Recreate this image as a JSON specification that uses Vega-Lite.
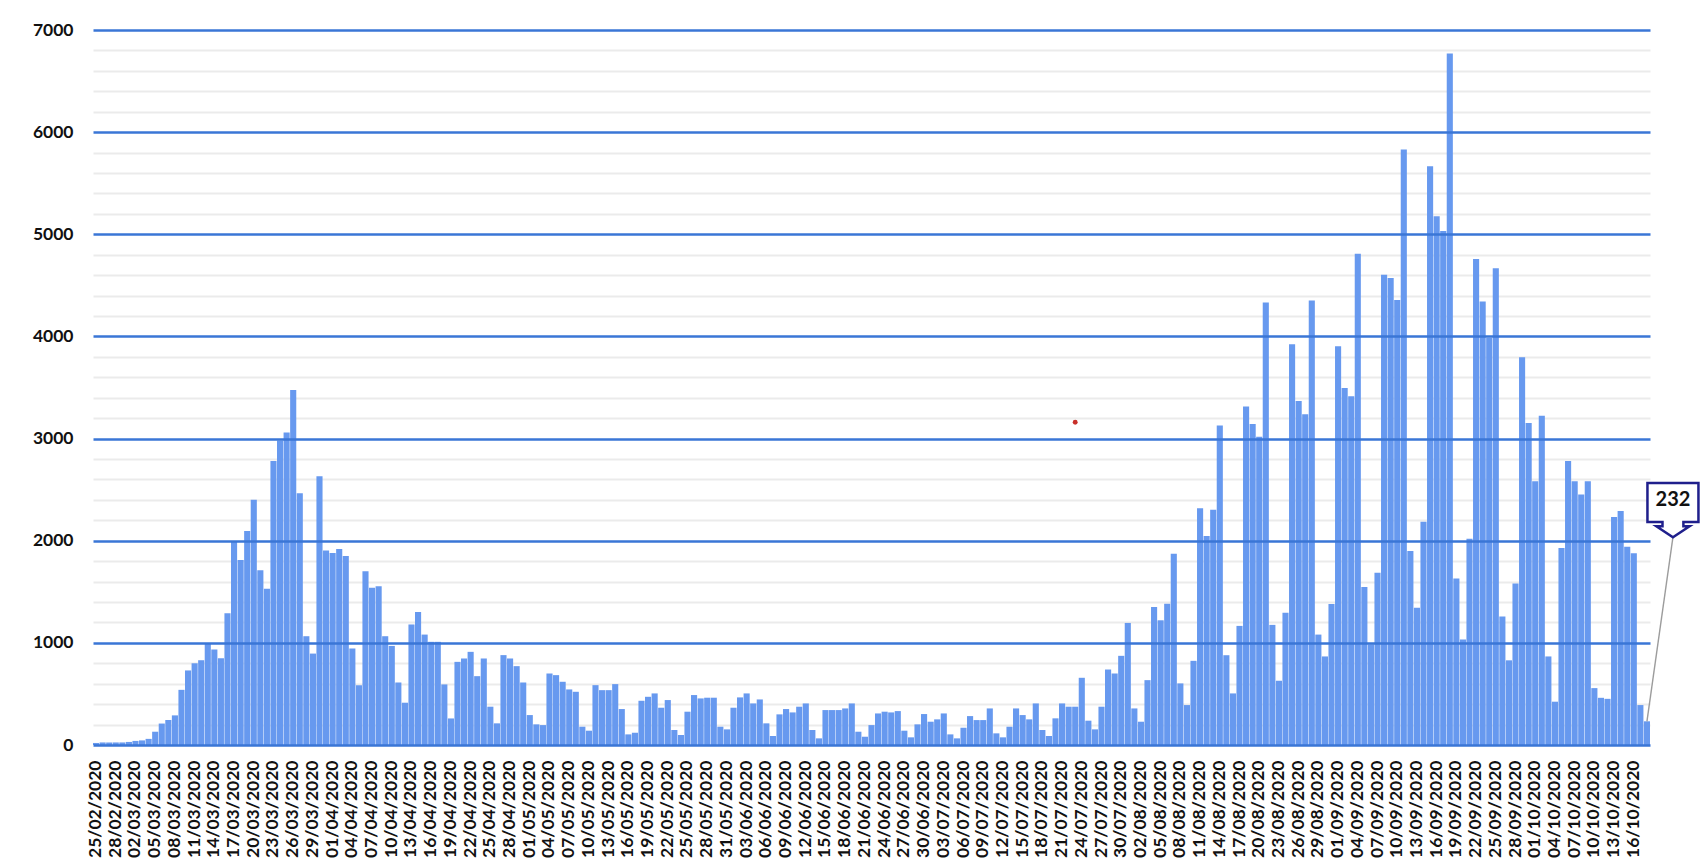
{
  "$schema": "https://vega.github.io/schema/vega-lite/v6.json",
  "width": 1557,
  "height": 715,
  "autosize": {"type": "none"},
  "padding": {"left": 93, "top": 30, "right": 56, "bottom": 117},
  "background": "white",
  "config": {"view": {"stroke": null}, "font": "Lato"},
  "datasets": {
    "daily": [
      {"date":"25/02/2020","value":20},{"date":"26/02/2020","value":25},{"date":"27/02/2020","value":25},{"date":"28/02/2020","value":25},{"date":"29/02/2020","value":25},
      {"date":"01/03/2020","value":30},{"date":"02/03/2020","value":40},{"date":"03/03/2020","value":45},{"date":"04/03/2020","value":60},{"date":"05/03/2020","value":130},{"date":"06/03/2020","value":210},{"date":"07/03/2020","value":245},{"date":"08/03/2020","value":290},{"date":"09/03/2020","value":540},{"date":"10/03/2020","value":730},{"date":"11/03/2020","value":800},{"date":"12/03/2020","value":830},{"date":"13/03/2020","value":990},{"date":"14/03/2020","value":935},{"date":"15/03/2020","value":850},{"date":"16/03/2020","value":1290},{"date":"17/03/2020","value":1995},{"date":"18/03/2020","value":1810},{"date":"19/03/2020","value":2095},{"date":"20/03/2020","value":2400},{"date":"21/03/2020","value":1710},{"date":"22/03/2020","value":1530},{"date":"23/03/2020","value":2780},{"date":"24/03/2020","value":2980},{"date":"25/03/2020","value":3060},{"date":"26/03/2020","value":3475},{"date":"27/03/2020","value":2465},{"date":"28/03/2020","value":1065},{"date":"29/03/2020","value":895},{"date":"30/03/2020","value":2630},{"date":"31/03/2020","value":1905},
      {"date":"01/04/2020","value":1880},{"date":"02/04/2020","value":1920},{"date":"03/04/2020","value":1850},{"date":"04/04/2020","value":945},{"date":"05/04/2020","value":585},{"date":"06/04/2020","value":1700},{"date":"07/04/2020","value":1540},{"date":"08/04/2020","value":1555},{"date":"09/04/2020","value":1065},{"date":"10/04/2020","value":970},{"date":"11/04/2020","value":612},{"date":"12/04/2020","value":414},{"date":"13/04/2020","value":1180},{"date":"14/04/2020","value":1303},{"date":"15/04/2020","value":1081},{"date":"16/04/2020","value":1010},{"date":"17/04/2020","value":1010},{"date":"18/04/2020","value":593},{"date":"19/04/2020","value":260},{"date":"20/04/2020","value":814},{"date":"21/04/2020","value":847},{"date":"22/04/2020","value":912},{"date":"23/04/2020","value":674},{"date":"24/04/2020","value":847},{"date":"25/04/2020","value":375},{"date":"26/04/2020","value":212},{"date":"27/04/2020","value":880},{"date":"28/04/2020","value":847},{"date":"29/04/2020","value":772},{"date":"30/04/2020","value":612},
      {"date":"01/05/2020","value":293},{"date":"02/05/2020","value":202},{"date":"03/05/2020","value":195},{"date":"04/05/2020","value":700},{"date":"05/05/2020","value":684},{"date":"06/05/2020","value":619},{"date":"07/05/2020","value":544},{"date":"08/05/2020","value":521},{"date":"09/05/2020","value":179},{"date":"10/05/2020","value":140},{"date":"11/05/2020","value":586},{"date":"12/05/2020","value":537},{"date":"13/05/2020","value":537},{"date":"14/05/2020","value":596},{"date":"15/05/2020","value":352},{"date":"16/05/2020","value":104},{"date":"17/05/2020","value":120},{"date":"18/05/2020","value":433},{"date":"19/05/2020","value":472},{"date":"20/05/2020","value":505},{"date":"21/05/2020","value":365},{"date":"22/05/2020","value":440},{"date":"23/05/2020","value":147},{"date":"24/05/2020","value":98},{"date":"25/05/2020","value":326},{"date":"26/05/2020","value":489},{"date":"27/05/2020","value":456},{"date":"28/05/2020","value":463},{"date":"29/05/2020","value":463},{"date":"30/05/2020","value":179},{"date":"31/05/2020","value":153},
      {"date":"01/06/2020","value":365},{"date":"02/06/2020","value":466},{"date":"03/06/2020","value":505},{"date":"04/06/2020","value":407},{"date":"05/06/2020","value":446},{"date":"06/06/2020","value":212},{"date":"07/06/2020","value":88},{"date":"08/06/2020","value":300},{"date":"09/06/2020","value":352},{"date":"10/06/2020","value":319},{"date":"11/06/2020","value":375},{"date":"12/06/2020","value":407},{"date":"13/06/2020","value":147},{"date":"14/06/2020","value":65},{"date":"15/06/2020","value":342},{"date":"16/06/2020","value":342},{"date":"17/06/2020","value":342},{"date":"18/06/2020","value":358},{"date":"19/06/2020","value":407},{"date":"20/06/2020","value":130},{"date":"21/06/2020","value":81},{"date":"22/06/2020","value":195},{"date":"23/06/2020","value":309},{"date":"24/06/2020","value":326},{"date":"25/06/2020","value":319},{"date":"26/06/2020","value":332},{"date":"27/06/2020","value":140},{"date":"28/06/2020","value":75},{"date":"29/06/2020","value":202},{"date":"30/06/2020","value":303},
      {"date":"01/07/2020","value":228},{"date":"02/07/2020","value":251},{"date":"03/07/2020","value":309},{"date":"04/07/2020","value":104},{"date":"05/07/2020","value":65},{"date":"06/07/2020","value":169},{"date":"07/07/2020","value":283},{"date":"08/07/2020","value":244},{"date":"09/07/2020","value":244},{"date":"10/07/2020","value":358},{"date":"11/07/2020","value":114},{"date":"12/07/2020","value":75},{"date":"13/07/2020","value":179},{"date":"14/07/2020","value":358},{"date":"15/07/2020","value":293},{"date":"16/07/2020","value":251},{"date":"17/07/2020","value":407},{"date":"18/07/2020","value":147},{"date":"19/07/2020","value":88},{"date":"20/07/2020","value":261},{"date":"21/07/2020","value":407},{"date":"22/07/2020","value":375},{"date":"23/07/2020","value":375},{"date":"24/07/2020","value":658},{"date":"25/07/2020","value":238},{"date":"26/07/2020","value":153},{"date":"27/07/2020","value":375},{"date":"28/07/2020","value":739},{"date":"29/07/2020","value":700},{"date":"30/07/2020","value":873},{"date":"31/07/2020","value":1195},
      {"date":"01/08/2020","value":358},{"date":"02/08/2020","value":228},{"date":"03/08/2020","value":635},{"date":"04/08/2020","value":1352},{"date":"05/08/2020","value":1221},{"date":"06/08/2020","value":1384},{"date":"07/08/2020","value":1873},{"date":"08/08/2020","value":603},{"date":"09/08/2020","value":391},{"date":"10/08/2020","value":824},{"date":"11/08/2020","value":2319},{"date":"12/08/2020","value":2046},{"date":"13/08/2020","value":2303},{"date":"14/08/2020","value":3127},{"date":"15/08/2020","value":879},{"date":"16/08/2020","value":505},{"date":"17/08/2020","value":1166},{"date":"18/08/2020","value":3313},{"date":"19/08/2020","value":3143},{"date":"20/08/2020","value":3019},{"date":"21/08/2020","value":4333},{"date":"22/08/2020","value":1176},{"date":"23/08/2020","value":629},{"date":"24/08/2020","value":1295},{"date":"25/08/2020","value":3924},{"date":"26/08/2020","value":3367},{"date":"27/08/2020","value":3238},{"date":"28/08/2020","value":4352},{"date":"29/08/2020","value":1081},{"date":"30/08/2020","value":867},{"date":"31/08/2020","value":1381},
      {"date":"01/09/2020","value":3905},{"date":"02/09/2020","value":3495},{"date":"03/09/2020","value":3414},{"date":"04/09/2020","value":4810},{"date":"05/09/2020","value":1548},{"date":"06/09/2020","value":986},{"date":"07/09/2020","value":1686},{"date":"08/09/2020","value":4605},{"date":"09/09/2020","value":4571},{"date":"10/09/2020","value":4357},{"date":"11/09/2020","value":5829},{"date":"12/09/2020","value":1900},{"date":"13/09/2020","value":1343},{"date":"14/09/2020","value":2186},{"date":"15/09/2020","value":5667},{"date":"16/09/2020","value":5176},{"date":"17/09/2020","value":5033},{"date":"18/09/2020","value":6771},{"date":"19/09/2020","value":1629},{"date":"20/09/2020","value":1033},{"date":"21/09/2020","value":2019},{"date":"22/09/2020","value":4757},{"date":"23/09/2020","value":4343},{"date":"24/09/2020","value":3986},{"date":"25/09/2020","value":4667},{"date":"26/09/2020","value":1257},{"date":"27/09/2020","value":829},{"date":"28/09/2020","value":1581},{"date":"29/09/2020","value":3795},{"date":"30/09/2020","value":3152},
      {"date":"01/10/2020","value":2581},{"date":"02/10/2020","value":3224},{"date":"03/10/2020","value":867},{"date":"04/10/2020","value":424},{"date":"05/10/2020","value":1929},{"date":"06/10/2020","value":2781},{"date":"07/10/2020","value":2581},{"date":"08/10/2020","value":2452},{"date":"09/10/2020","value":2581},{"date":"10/10/2020","value":557},{"date":"11/10/2020","value":462},{"date":"12/10/2020","value":452},{"date":"13/10/2020","value":2231},{"date":"14/10/2020","value":2290},{"date":"15/10/2020","value":1940},{"date":"16/10/2020","value":1878},{"date":"17/10/2020","value":391},{"date":"18/10/2020","value":232}
    ],
    "dot": [{"date": "23/07/2020", "value": 3160}]
  },
  "layer": [
    {
      "data": {"name": "daily"},
      "mark": {"type": "bar", "color": "#6799ef"},
      "encoding": {
        "x": {
          "field": "date", "type": "ordinal", "sort": null,
          "scale": {"paddingInner": 0.07, "paddingOuter": 0},
          "axis": {
            "title": null, "ticks": false, "domain": false, "grid": false,
            "labelAngle": 270, "labelFont": "Lato", "labelFontWeight": "bold", "labelFontSize": 17.5,
            "labelColor": "#111111", "labelPadding": 15, "labelOverlap": false,
            "values": ["25/02/2020","28/02/2020","02/03/2020","05/03/2020","08/03/2020","11/03/2020","14/03/2020","17/03/2020","20/03/2020","23/03/2020","26/03/2020","29/03/2020","01/04/2020","04/04/2020","07/04/2020","10/04/2020","13/04/2020","16/04/2020","19/04/2020","22/04/2020","25/04/2020","28/04/2020","01/05/2020","04/05/2020","07/05/2020","10/05/2020","13/05/2020","16/05/2020","19/05/2020","22/05/2020","25/05/2020","28/05/2020","31/05/2020","03/06/2020","06/06/2020","09/06/2020","12/06/2020","15/06/2020","18/06/2020","21/06/2020","24/06/2020","27/06/2020","30/06/2020","03/07/2020","06/07/2020","09/07/2020","12/07/2020","15/07/2020","18/07/2020","21/07/2020","24/07/2020","27/07/2020","30/07/2020","02/08/2020","05/08/2020","08/08/2020","11/08/2020","14/08/2020","17/08/2020","20/08/2020","23/08/2020","26/08/2020","29/08/2020","01/09/2020","04/09/2020","07/09/2020","10/09/2020","13/09/2020","16/09/2020","19/09/2020","22/09/2020","25/09/2020","28/09/2020","01/10/2020","04/10/2020","07/10/2020","10/10/2020","13/10/2020","16/10/2020"]
          }
        },
        "y": {
          "field": "value", "type": "quantitative",
          "scale": {"domain": [0, 7000], "nice": false, "zero": true},
          "axis": {
            "orient": "right", "title": null, "labels": false, "ticks": false, "domain": false,
            "grid": true, "gridColor": "#ebebeb", "gridWidth": 2, "zindex": 0,
            "values": [200,400,600,800,1200,1400,1600,1800,2200,2400,2600,2800,3200,3400,3600,3800,4200,4400,4600,4800,5200,5400,5600,5800,6200,6400,6600,6800]
          }
        }
      }
    },
    {
      "data": {"name": "daily"},
      "transform": [{"filter": {"field": "date", "equal": "18/10/2020"}}],
      "mark": {"type": "point", "shape": "M0,0L1,-7.08", "size": 2704, "filled": false, "stroke": "#9c9c9c", "strokeWidth": 1.4, "opacity": 1},
      "encoding": {
        "x": {"field": "date", "type": "ordinal", "sort": null, "axis": null},
        "y": {"field": "value", "type": "quantitative", "axis": null}
      }
    },
    {
      "data": {"name": "daily"},
      "transform": [{"filter": {"field": "date", "equal": "18/10/2020"}}],
      "mark": {"type": "point", "shape": "M-1,-1.07L1,-1.07L1,0.46L0.41,0.46L0.41,0.63L0.65,0.63L0,1.06L-0.65,0.63L-0.41,0.63L-0.41,0.46L-1,0.46Z", "size": 2601, "filled": true, "fill": "white", "stroke": "#1f1f8c", "strokeWidth": 2.5, "opacity": 1, "xOffset": 26, "yOffset": -211},
      "encoding": {
        "x": {"field": "date", "type": "ordinal", "sort": null, "axis": null},
        "y": {"field": "value", "type": "quantitative", "axis": null}
      }
    },
    {
      "data": {"name": "daily"},
      "transform": [{"filter": {"field": "date", "equal": "18/10/2020"}}],
      "mark": {"type": "text", "font": "Lato", "fontWeight": "bold", "fontSize": 20, "color": "#111111", "align": "center", "baseline": "middle", "xOffset": 26, "yOffset": -221},
      "encoding": {
        "x": {"field": "date", "type": "ordinal", "sort": null, "axis": null},
        "y": {"field": "value", "type": "quantitative", "axis": null},
        "text": {"field": "value", "type": "quantitative", "format": "d"}
      }
    },
    {
      "data": {"name": "dot"},
      "mark": {"type": "point", "filled": true, "color": "#c8302a", "size": 24, "opacity": 1},
      "encoding": {
        "x": {"field": "date", "type": "ordinal", "sort": null, "axis": null},
        "y": {
          "field": "value", "type": "quantitative",
          "axis": {
            "orient": "left", "title": null, "ticks": false, "domain": false, "format": "d",
            "grid": true, "gridColor": "#3a76d6", "gridWidth": 2.3, "zindex": 1,
            "values": [0,1000,2000,3000,4000,5000,6000,7000],
            "labelFont": "Lato", "labelFontWeight": "bold", "labelFontSize": 17.5, "labelColor": "#111111",
            "labelPadding": 20, "labelFlush": false, "labelOverlap": false, "labelBound": false
          }
        }
      }
    }
  ],
  "resolve": {"axis": {"x": "independent", "y": "independent"}}
}
